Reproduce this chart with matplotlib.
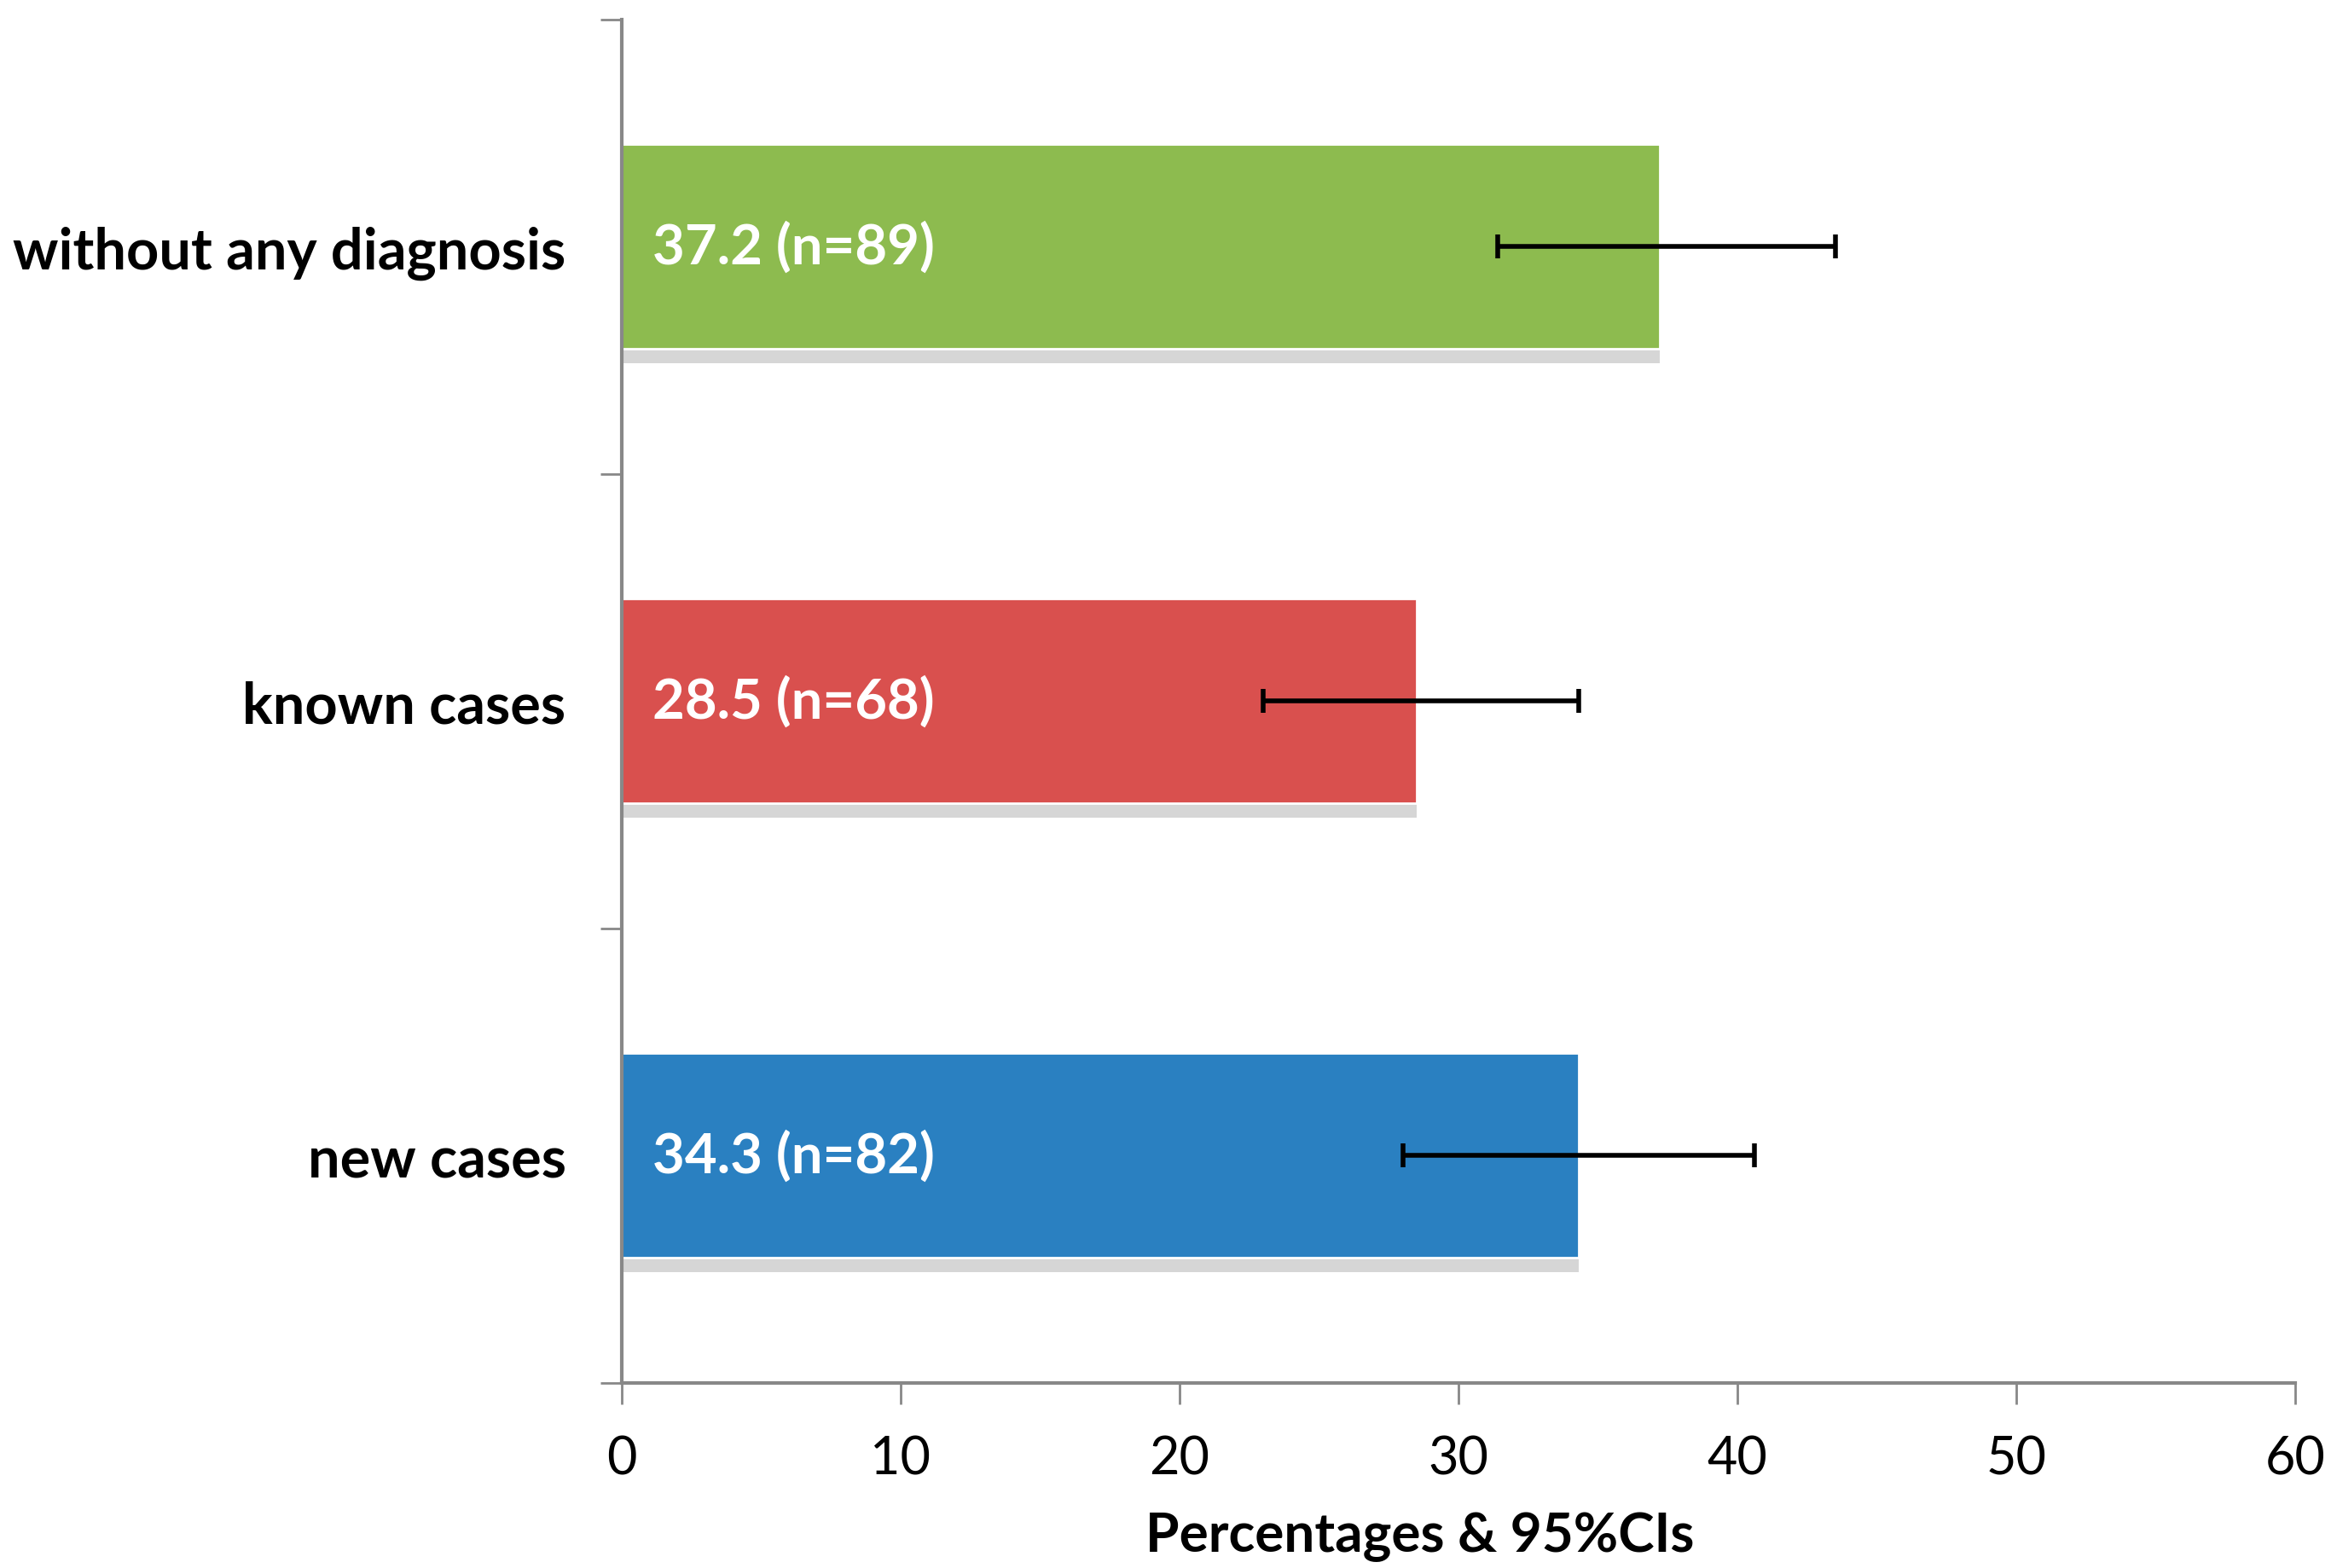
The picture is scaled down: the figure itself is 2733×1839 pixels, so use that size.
import matplotlib
matplotlib.use('Agg')
import matplotlib.pyplot as plt
import matplotlib.patheffects as pe

plt.rcParams['font.family'] = ['Lato', 'DejaVu Sans']

# data (bottom to top)
groups = ['new cases', 'known cases', 'without any diagnosis']
pct = [34.3, 28.5, 37.2]
n = [82, 68, 89]
ci_low = [28.0, 23.0, 31.4]
ci_high = [40.6, 34.3, 43.5]
colors = ['#2A80C1', '#D9504E', '#8DBB4F']

fig = plt.figure(figsize=(27.33, 18.4), dpi=100)
ax = fig.add_axes([0.2667, 0.118, 0.718, 0.869])

ypos = list(range(len(groups)))
bars = ax.barh(ypos, pct, height=0.45, color=colors, edgecolor='white', linewidth=2,
               zorder=2)
# soft grey shadow under each bar
for b in bars:
    b.set_path_effects([pe.SimplePatchShadow(offset=(0, -12), shadow_rgbFace='#999999',
                                             alpha=0.4), pe.Normal()])

xerr = [[p - lo for p, lo in zip(pct, ci_low)], [hi - p for p, hi in zip(pct, ci_high)]]
ax.errorbar(pct, ypos, xerr=xerr, fmt='none', ecolor='black', elinewidth=4,
            capsize=10, capthick=4, zorder=3)

for y, p, k in zip(ypos, pct, n):
    ax.text(1.1, y, f'{p} (n={k})', color='white', fontsize=47, fontweight='bold',
            va='center', ha='left', zorder=4)

ax.set_xlim(0, 60)
ax.set_ylim(-0.5, 2.5)
ax.set_xticks(range(0, 61, 10))
ax.set_yticks([-0.5, 0.5, 1.5, 2.5])
ax.set_yticklabels([])
ax.set_yticks(ypos, minor=True)
ax.set_yticklabels(groups, minor=True, fontsize=48, fontweight='bold')
ax.tick_params(axis='y', which='minor', length=0, pad=47)
ax.tick_params(axis='y', which='major', length=18, width=2, color='#888888')
ax.tick_params(axis='x', length=18, width=2, color='#888888', labelsize=44, pad=26)

for s in ['top', 'right']:
    ax.spines[s].set_visible(False)
for s in ['left', 'bottom']:
    ax.spines[s].set_color('#888888')
    ax.spines[s].set_linewidth(3)

ax.set_xlabel('Percentages & 95%CIs', fontsize=46, fontweight='bold')
ax.xaxis.set_label_coords(0.477, -0.094)

fig.savefig('out.png', dpi=100, facecolor='white')
